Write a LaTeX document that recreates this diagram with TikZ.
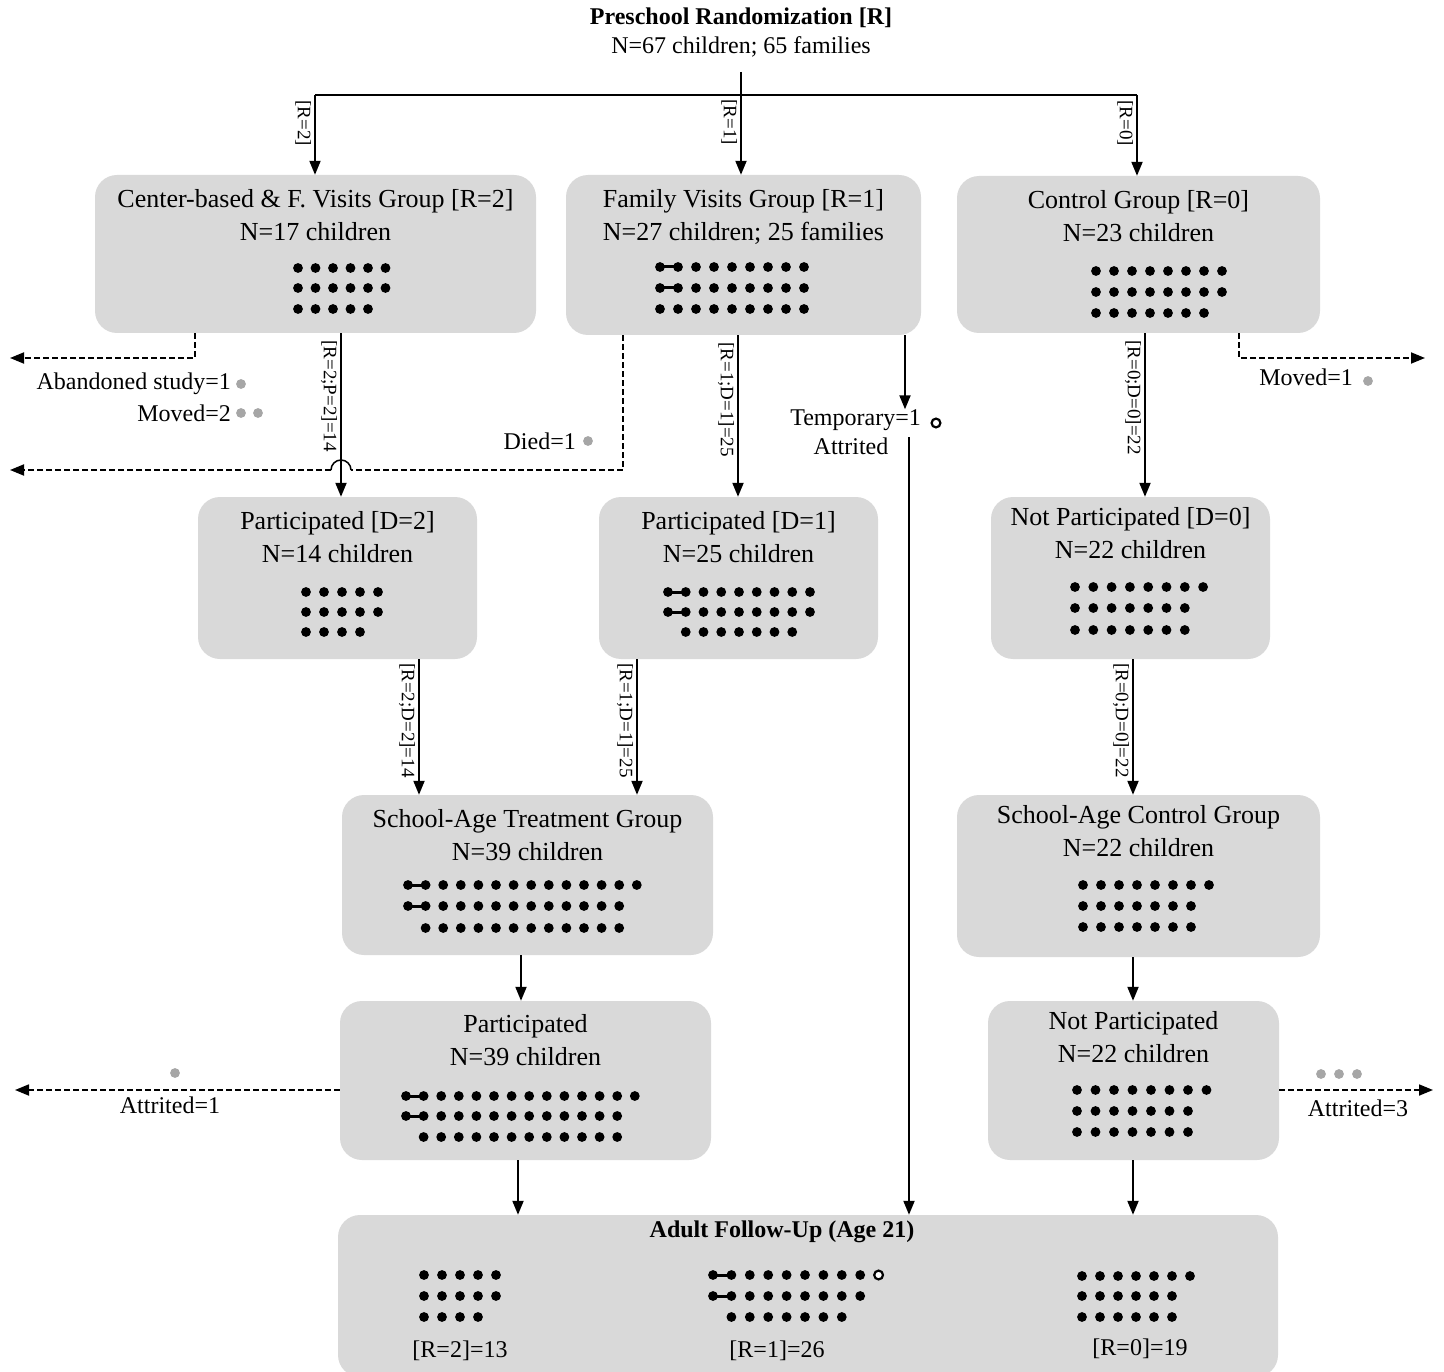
\documentclass[tikz,border=0pt]{standalone}
\usepackage{fontspec}
\setmainfont{Liberation Serif}
\usetikzlibrary{arrows.meta}
\definecolor{boxgray}{RGB}{217,217,217}
\definecolor{dropgray}{RGB}{166,166,166}
\newcommand{\boxfont}{\fontsize{26}{33}\selectfont}
\newcommand{\lblfont}{\fontsize{24}{29}\selectfont}
\newcommand{\rotfont}{\fontsize{19}{22}\selectfont}
\newcommand{\kidrow}[4]{\foreach \kk in {1,...,#4}{\fill (#1+#3*\kk-#3,#2) circle[radius=4.9pt];}}
\newcommand{\sibs}[3]{\draw[line width=3pt] (#1,#2) -- ++(#3,0);}

\begin{document}
\begin{tikzpicture}[x=1pt,y=-1pt,
    box/.style={fill=boxgray,rounded corners=22pt,inner sep=0pt},
    boxtext/.style={anchor=north,inner sep=0pt,align=center,font=\boxfont,yshift=-14pt},
    lbl/.style={inner sep=0pt,font=\lblfont},
    rot/.style={inner sep=0pt,outer sep=4pt,font=\rotfont,rotate=-90,anchor=north west},
    ln/.style={line width=2pt},
    arr/.style={line width=2pt,-{Triangle[length=14pt,width=11pt]}},
    dsh/.style={line width=1.8pt,dash pattern=on 6pt off 3pt,-{Triangle[length=14pt,width=11pt]}},
    drop/.style={fill=dropgray}]
  \useasboundingbox (0,0) rectangle (1444,1372);

  \node[lbl,font=\lblfont\bfseries] (ttl) at (741,18) {Preschool Randomization [R]};
  \node[lbl] (ttn) at (741,47) {N=67 children; 65 families};

  \node[box,minimum width=441pt,minimum height=158pt] (cb) at (315.5,254) {};
  \node[boxtext] (cbt) at (cb.north) {Center-based \& F. Visits Group [R=2]\\N=17 children};
  \node[box,minimum width=355pt,minimum height=160pt] (fv) at (743.5,255) {};
  \node[boxtext] (fvt) at (fv.north) {Family Visits Group [R=1]\\N=27 children; 25 families};
  \node[box,minimum width=363pt,minimum height=157pt] (cg) at (1138.5,254.5) {};
  \node[boxtext] (cgt) at (cg.north) {Control Group [R=0]\\N=23 children};

  \node[box,minimum width=279pt,minimum height=162pt] (pd2) at (337.5,578) {};
  \node[boxtext] (pd2t) at (pd2.north) {Participated [D=2]\\N=14 children};
  \node[box,minimum width=279pt,minimum height=162pt] (pd1) at (738.5,578) {};
  \node[boxtext] (pd1t) at (pd1.north) {Participated [D=1]\\N=25 children};
  \node[box,minimum width=279pt,minimum height=162pt] (npd0) at (1130.5,578) {};
  \node[boxtext,yshift=4pt] (npd0t) at (npd0.north) {Not Participated [D=0]\\N=22 children};

  \node[box,minimum width=371pt,minimum height=160pt] (sat) at (527.5,875) {};
  \node[boxtext] (satt) at (sat.north) {School-Age Treatment Group\\N=39 children};
  \node[box,minimum width=363pt,minimum height=162pt] (sac) at (1138.5,876) {};
  \node[boxtext,yshift=4pt] (sact) at (sac.north) {School-Age Control Group\\N=22 children};

  \node[box,minimum width=371pt,minimum height=159pt] (pt) at (525.5,1080.5) {};
  \node[boxtext,yshift=1pt] (ptt) at (pt.north) {Participated\\N=39 children};
  \node[box,minimum width=291pt,minimum height=159pt] (npt) at (1133.5,1080.5) {};
  \node[boxtext,yshift=4pt] (nptt) at (npt.north) {Not Participated\\N=22 children};

  \node[box,minimum width=940pt,minimum height=162pt] (adult) at (808,1296) {};
  \node[lbl,font=\lblfont\bfseries] (adt) at (782,1232) {Adult Follow-Up (Age 21)};
  \node[lbl] (a2) at (460,1351) {[R=2]=13};
  \node[lbl] (a1) at (777,1351) {[R=1]=26};
  \node[lbl] (a0) at (1140,1349) {[R=0]=19};

  \node[lbl,anchor=east] (abd) at (231,384) {Abandoned study=1};
  \node[lbl,anchor=east] (mv2) at (231,413) {Moved=2};
  \node[lbl,anchor=east] (died) at (576,441) {Died=1};
  \node[lbl,anchor=east] (temp) at (921,420) {Temporary=1};
  \node[lbl] (attr) at (851,446) {Attrited};
  \node[lbl,anchor=east] (mv1) at (1353,377) {Moved=1};
  \node[lbl] (att1) at (170,1105) {Attrited=1};
  \node[lbl] (att3) at (1358,1108) {Attrited=3};

  \coordinate (rs) at (741,72);
  \coordinate (rb) at (741,95);
  \coordinate (br2) at (315,0);
  \coordinate (br1) at (741,0);
  \coordinate (br0) at (1137,0);
  \coordinate (c2) at (341,0);
  \coordinate (c1) at (738,0);
  \coordinate (c0) at (1145,0);
  \coordinate (s2) at (419,0);
  \coordinate (s1) at (637,0);
  \coordinate (s0) at (1133,0);
  \coordinate (tg) at (521,0);
  \coordinate (fg) at (518,0);
  \coordinate (tmp) at (905,0);
  \coordinate (tmpl) at (909,0);
  \coordinate (dc) at (195,0);
  \coordinate (dd) at (623,0);
  \coordinate (dm) at (1239,0);
  \coordinate (lo1) at (10,358);
  \coordinate (lo2) at (10,470);
  \coordinate (ro1) at (1425,358);
  \coordinate (lo3) at (15,1090);
  \coordinate (ro2) at (1433,1090);
  \coordinate (hop) at (c2 |- lo2);

  \draw[ln] (br2 |- rb) -- (br0 |- rb);
  \draw[arr] (br2 |- rb) -- node[rot,pos=0.02]{[R=2]} (cb.north -| br2);
  \draw[arr] (rs) -- node[rot,pos=0.23]{[R=1]} (fv.north -| br1);
  \draw[arr] (br0 |- rb) -- node[rot,pos=0.02]{[R=0]} (cg.north -| br0);

  \draw[dsh] (cb.south -| dc) |- (lo1);
  \draw[dsh,-] (fv.south -| dd) |- ([xshift=10pt]hop);
  \draw[line width=1.5pt] ([xshift=10pt]hop) arc[start angle=0,end angle=180,radius=10pt];
  \draw[dsh] ([xshift=-10pt]hop) -- (lo2);
  \draw[dsh] (cg.south -| dm) |- (ro1);

  \draw[arr] (cb.south -| c2) -- node[rot,pos=0.02]{[R=2;P=2]=14} (pd2.north -| c2);
  \draw[arr] (fv.south -| c1) -- node[rot,pos=0.02]{[R=1;D=1]=25} (pd1.north -| c1);
  \draw[arr] (cg.south -| c0) -- node[rot,pos=0.02]{[R=0;D=0]=22} (npd0.north -| c0);
  \draw[arr] (fv.south -| tmp) -- (temp.north -| tmp);
  \draw[arr] (attr.north -| tmpl) -- (adult.north -| tmpl);

  \draw[arr] (pd2.south -| s2) -- node[rot,pos=0.0]{[R=2;D=2]=14} (sat.north -| s2);
  \draw[arr] (pd1.south -| s1) -- node[rot,pos=0.0]{[R=1;D=1]=25} (sat.north -| s1);
  \draw[arr] (npd0.south -| s0) -- node[rot,pos=0.0]{[R=0;D=0]=22} (sac.north -| s0);

  \draw[arr] (sat.south -| tg) -- (pt.north -| tg);
  \draw[arr] (sac.south -| s0) -- (npt.north -| s0);
  \draw[arr] (pt.south -| fg) -- (adult.north -| fg);
  \draw[arr] (npt.south -| s0) -- (adult.north -| s0);

  \draw[dsh] (pt.west |- lo3) -- (lo3);
  \draw[dsh] (npt.east |- ro2) -- (ro2);

  \fill[drop] (241,384) circle[radius=4.9pt];
  \fill[drop] (241,413) circle[radius=4.9pt];
  \fill[drop] (258,413) circle[radius=4.9pt];
  \fill[drop] (588,441) circle[radius=4.9pt];
  \fill[drop] (1368,381) circle[radius=4.9pt];
  \fill[drop] (175,1073) circle[radius=4.9pt];
  \fill[drop] (1321,1074) circle[radius=4.9pt];
  \fill[drop] (1339,1074) circle[radius=4.9pt];
  \fill[drop] (1357,1074) circle[radius=4.9pt];
  \draw[line width=2.2pt,fill=white] (936,423) circle[radius=4.4pt];

  \kidrow{298}{268}{17.5}{6}
  \kidrow{298}{288}{17.5}{6}
  \kidrow{298}{309}{17.5}{5}

  \sibs{660}{267}{18}
  \kidrow{660}{267}{18}{9}
  \sibs{660}{288}{18}
  \kidrow{660}{288}{18}{9}
  \kidrow{660}{309}{18}{9}

  \kidrow{1096}{271}{18}{8}
  \kidrow{1096}{292}{18}{8}
  \kidrow{1096}{313}{18}{7}

  \kidrow{306}{592}{18}{5}
  \kidrow{306}{612}{18}{5}
  \kidrow{306}{632}{18}{4}

  \sibs{668}{592}{17.75}
  \kidrow{668}{592}{17.75}{9}
  \sibs{668}{612}{17.75}
  \kidrow{668}{612}{17.75}{9}
  \kidrow{685.75}{632}{17.75}{7}

  \kidrow{1075}{587}{18.3}{8}
  \kidrow{1075}{608}{18.3}{7}
  \kidrow{1075}{630}{18.3}{7}

  \sibs{408}{885}{17.6}
  \kidrow{408}{885}{17.6}{14}
  \sibs{408}{906}{17.6}
  \kidrow{408}{906}{17.6}{13}
  \kidrow{425.6}{928}{17.6}{12}

  \kidrow{1083}{885}{18}{8}
  \kidrow{1083}{906}{18}{7}
  \kidrow{1083}{927}{18}{7}

  \sibs{406}{1096}{17.6}
  \kidrow{406}{1096}{17.6}{14}
  \sibs{406}{1116}{17.6}
  \kidrow{406}{1116}{17.6}{13}
  \kidrow{423.6}{1137}{17.6}{12}

  \kidrow{1077}{1090}{18.5}{8}
  \kidrow{1077}{1111}{18.5}{7}
  \kidrow{1077}{1132}{18.5}{7}

  \kidrow{424}{1275}{18}{5}
  \kidrow{424}{1296}{18}{5}
  \kidrow{424}{1317}{18}{4}

  \sibs{713}{1275}{18.4}
  \kidrow{713}{1275}{18.4}{9}
  \draw[line width=2.2pt,fill=white] (878.6,1275) circle[radius=4.4pt];
  \sibs{713}{1296}{18.4}
  \kidrow{713}{1296}{18.4}{9}
  \kidrow{731.4}{1317}{18.4}{7}

  \kidrow{1082}{1276}{18}{7}
  \kidrow{1082}{1296}{18}{6}
  \kidrow{1082}{1317}{18}{6}
\end{tikzpicture}
\end{document}
